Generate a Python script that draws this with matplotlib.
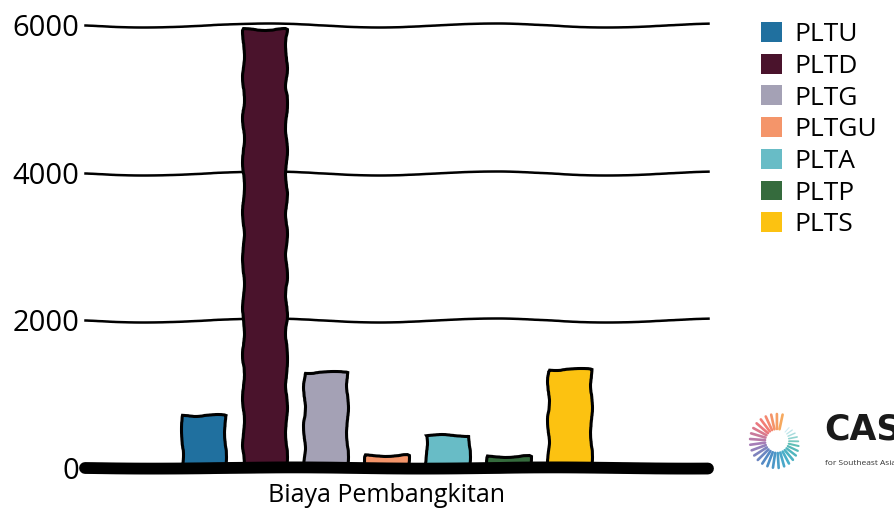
import numpy as np
import matplotlib
matplotlib.use("Agg")
import matplotlib.pyplot as plt
from matplotlib.patches import Patch

plt.rcParams['font.family'] = ['Open Sans', 'DejaVu Sans']

# Generation cost by plant type
categories = ["PLTU", "PLTD", "PLTG", "PLTGU", "PLTA", "PLTP", "PLTS"]
values = [720, 5950, 1300, 170, 450, 160, 1340]
colors = ["#20709f", "#4a132c", "#a4a1b5", "#f4956a", "#68bcc6", "#356b3d", "#fcc211"]
group_label = "Biaya Pembangkitan"
yticks = [0, 2000, 4000, 6000]

W, H = 894, 509
fig = plt.figure(figsize=(W / 100, H / 100), dpi=100)

left, right, bottom, top = 85, 708, 468, 25
ax = fig.add_axes([left / W, 1 - bottom / H, (right - left) / W, (bottom - top) / H])

n = len(categories)
pos = np.arange(n) - (n - 1) / 2
bars = ax.bar(pos, values, width=0.7, color=colors, edgecolor="black",
              linewidth=2.2, zorder=3)
for b in bars:
    b.set_sketch_params(scale=1.0, length=55, randomness=3)

ax.set_xlim(-4.94, 5.27)
ax.set_ylim(0, 6000)

# hand-drawn gridlines
for yv in yticks[1:]:
    ln = ax.axhline(yv, color="black", lw=1.8, zorder=1, clip_on=False)
    ln.set_sketch_params(scale=2.0, length=260, randomness=2)

base = ax.axhline(0, color="black", lw=8.5, solid_capstyle="round", zorder=4,
                  clip_on=False)
base.set_sketch_params(scale=0.6, length=300, randomness=2)

for s in ax.spines.values():
    s.set_visible(False)
ax.set_yticks(yticks)
ax.set_yticklabels([str(v) for v in yticks], fontsize=21)
ax.tick_params(axis="y", length=0, pad=4)
ax.set_xticks([0])
ax.set_xticklabels([group_label], fontsize=18)
ax.tick_params(axis="x", length=0, pad=11)

handles = [Patch(facecolor=c, edgecolor="none") for c in colors]
fig.legend(handles, categories, loc="upper left", bbox_to_anchor=(761 / W, 1 - 22 / H),
           frameon=False, fontsize=19, handlelength=0.78, handleheight=0.78,
           handletextpad=0.5, labelspacing=0.25, borderaxespad=0, borderpad=0)

# logo: sunburst mark and wordmark
lax = fig.add_axes([(777 - 30) / W, 1 - (441 + 30) / H, 60 / W, 60 / H])
lax.set_xlim(-30, 30)
lax.set_ylim(-30, 30)
lax.axis("off")
cmap = matplotlib.colors.LinearSegmentedColormap.from_list(
    "sun", ["#f6a04d", "#f0686a", "#9d6fb0", "#3a7fc0", "#35a6c4", "#49b8a8", "#9fd8e6"])
angles = np.linspace(78, 78 + 330, 28)
for i, a in enumerate(angles):
    t = i / (len(angles) - 1)
    r0 = 12
    r1 = 27 - 9 * max(0, t - 0.6) / 0.4
    lw = 1.9 - 1.1 * max(0, t - 0.7) / 0.3
    th = np.deg2rad(a)
    lax.plot([r0 * np.cos(th), r1 * np.cos(th)], [r0 * np.sin(th), r1 * np.sin(th)],
             color=cmap(t), lw=lw, solid_capstyle="round",
             alpha=0.9 - 0.4 * max(0, t - 0.8) / 0.2)

fig.text(824 / W, 1 - 440 / H, "CASE", fontsize=25, fontweight="bold",
         color="#1a1a1a", family=["DejaVu Sans"])
fig.text(825 / W, 1 - 465 / H, "for Southeast Asia", fontsize=6, color="#333333")

fig.savefig("out.png", dpi=100)
